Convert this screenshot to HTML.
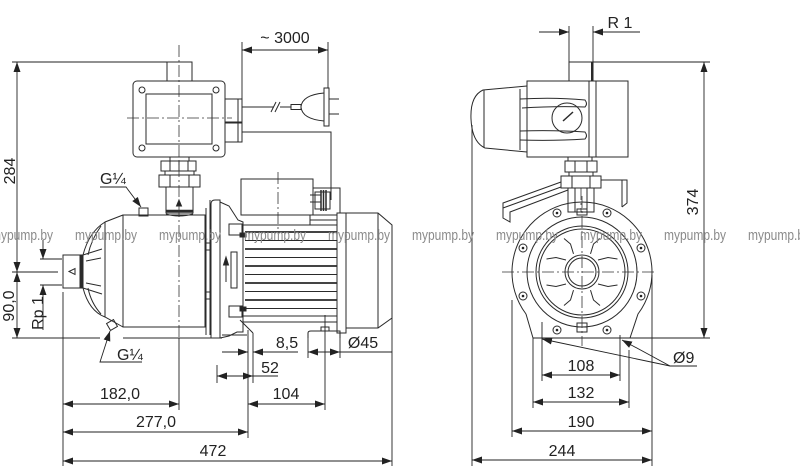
<!DOCTYPE html>
<html><head><meta charset="utf-8"><style>
html,body{margin:0;padding:0;background:#fff;}
svg{display:block;}
text{font-family:"Liberation Sans",sans-serif;fill:#222;font-size:16px;}
.wm{fill:#8a8a8a;font-size:15px;}
</style></head><body>
<svg width="800" height="468" viewBox="0 0 800 468" xmlns="http://www.w3.org/2000/svg">
<defs>
<marker id="a" viewBox="0 0 10 7" refX="10" refY="3.5" markerWidth="10" markerHeight="7" markerUnits="userSpaceOnUse" orient="auto-start-reverse"><path d="M0,0L10,3.5L0,7z" fill="#222"/></marker>
<g id="vq">
<path d="M573.5,253.9L570.5,244L564,238.5"/>
<path d="M566,260L556,257.5L546.5,259"/>
</g>
</defs>
<rect width="800" height="468" fill="#fff"/>

<!-- ============ LEFT VIEW ============ -->
<g fill="none" stroke="#2a2a2a" stroke-width="1">
<rect x="133" y="81" width="92" height="76" rx="4"/>
<rect x="146" y="94" width="66" height="50"/>
<circle cx="142" cy="90" r="3"/><circle cx="216" cy="90" r="3"/>
<circle cx="142" cy="148" r="3"/><circle cx="216" cy="148" r="3"/>
<rect x="167" y="62" width="25" height="19"/>
<rect x="225" y="99" width="17" height="23"/>
<rect x="225" y="123" width="17" height="19"/>
<path d="M238,99V122M238,123V142"/>
<path d="M242,107H274M280,107H291"/>
<path d="M271,112L276,102M275,112L280,102"/>
<rect x="291" y="104.5" width="10" height="5"/>
<path d="M324,93Q302,95 301,107Q302,119 324,121"/>
<rect x="324" y="88" width="5" height="38"/>
<path d="M329,99H339M329,114H339"/>
<path d="M242,132H331V200"/>
<rect x="170" y="157" width="19" height="4"/>
<rect x="161" y="161" width="35" height="10"/>
<path d="M170,161V171M179,161V171M188,161V171"/>
<rect x="165" y="171" width="29" height="4"/>
<rect x="159" y="175" width="41" height="12"/>
<path d="M170,175V187M189,175V187"/>
<rect x="166" y="187" width="27" height="26"/>
<path d="M166,211H193" stroke-width="2.5"/>
<path d="M166,214Q179,218 193,214"/>
<path d="M179,200L176.5,206H181.5Z" fill="#222"/>
<rect x="123" y="215" width="82" height="112"/>
<path d="M123,215L105,222Q89,232 83,255V288Q89,311 105,317L123,327"/>
<path d="M105,222V317"/>
<path d="M101,226Q91,240 88,255M88,288Q91,303 101,314"/>
<path d="M83,255L102,249M86,261L101,258M86,283L101,286M83,288L102,294"/>
<rect x="63" y="255" width="19" height="33"/>
<path d="M81,255V288" stroke-width="3"/>
<path d="M69,271.5L75,268.5V274.5Z"/>
<rect x="139" y="208" width="9" height="8"/>
<rect x="108" y="321" width="8" height="8" transform="rotate(-30 112 325)"/>
<path d="M206,208V335M210,200V335"/>
<rect x="206" y="243" width="4" height="7"/><rect x="206" y="292" width="4" height="7"/>
<path d="M211,338V204Q211,200 215,200H220V338"/>
<path d="M220,202L229,206L238,220L243,222V332H237L229,336L220,338"/>
<path d="M222,335H247M240,320L253,333"/>
<rect x="229" y="224" width="13" height="11"/>
<rect x="229" y="306" width="13" height="11"/>
<rect x="231" y="252" width="6" height="36"/>
<path d="M226,282V264"/>
<path d="M226,257L223.5,265H228.5Z" fill="#222"/>
<rect x="240" y="233" width="6" height="4" fill="#222"/>
<rect x="240" y="307" width="6" height="4" fill="#222"/>
<rect x="241" y="179" width="72" height="36"/>
<path d="M243,225H337M243,322H337M243,316H337M243,222V322"/>
<g stroke-width="1.8">
<path d="M245,232H337M245,249H337M245,266H337M245,283H337M245,300H337"/>
</g>
<g stroke-width="1.1">
<path d="M245,240.5H337M245,257.5H337M245,274.5H337M245,291.5H337M245,308.5H337"/>
</g>
<rect x="310" y="215" width="27" height="10"/>
<path d="M310,220H337"/>
<rect x="315" y="192" width="15" height="17"/>
<path d="M321,190V211M323.5,190V211M326,190V211" stroke-width="1.5"/>
<path d="M310,195H321M310,202H321M313,188H340V213"/>
<rect x="337" y="213" width="9" height="120"/>
<path d="M346,213H378L392,225V318L378,328H346M378,213V328"/>
<path d="M308,338V333Q308,331 311,331H340V338"/>
<rect x="321" y="327" width="8" height="4"/>
<path d="M12,338H100M123,338H222"/>
</g>

<g fill="none" stroke="#333" stroke-width="0.8" stroke-dasharray="12,3,2,3">
<path d="M179,45V338M127,118H232M278,172V232"/>
</g>

<g fill="none" stroke="#222" stroke-width="0.9">
<path d="M12,62H167M12,272H58M40,259H62M40,285H62"/>
<path d="M17,62V272" marker-start="url(#a)" marker-end="url(#a)"/>
<path d="M17,272V338" marker-start="url(#a)" marker-end="url(#a)"/>
<path d="M43,240V259" marker-end="url(#a)"/>
<path d="M43,330V285" marker-end="url(#a)"/>
<path d="M242,42V99M328,42V88"/>
<path d="M242,50H328" marker-start="url(#a)" marker-end="url(#a)"/>
<path d="M100,187H126L141,207" marker-end="url(#a)"/>
<path d="M142,362H100L110,331" marker-end="url(#a)"/>
<path d="M222,352H248" marker-end="url(#a)"/>
<path d="M298,352H253" marker-end="url(#a)"/>
<path d="M308,352H340" marker-start="url(#a)" marker-end="url(#a)"/>
<path d="M340,352H392"/>
<path d="M217,376H253" marker-start="url(#a)" marker-end="url(#a)"/>
<path d="M253,376H278"/>
<path d="M63,404H179" marker-start="url(#a)" marker-end="url(#a)"/>
<path d="M248,404H325" marker-start="url(#a)" marker-end="url(#a)"/>
<path d="M63,432H248" marker-start="url(#a)" marker-end="url(#a)"/>
<path d="M63,461H392" marker-start="url(#a)" marker-end="url(#a)"/>
<path d="M63,292V466M179,338V410M248,330V438M253,333V383M217,365V383M325,315V410M392,318V466M308,333V358M340,333V358"/>
</g>

<!-- ============ RIGHT VIEW ============ -->
<g fill="none" stroke="#2a2a2a" stroke-width="1">
<rect x="569" y="62" width="24" height="19"/>
<path d="M592,62V81" stroke-width="2"/>
<rect x="527" y="81" width="101" height="76"/>
<path d="M589,81V157M596,81V157"/>
<path d="M527,86L483,90Q470,96 471,119Q472,142 485,148L527,152"/>
<path d="M520,89V150M484,90V148"/>
<circle cx="567" cy="118" r="15"/>
<path d="M563,121L573,112" stroke-width="1.5"/>
<path d="M520,99Q555,97 585,100Q588,104 585,107Q555,106 522,108"/>
<path d="M520,131Q555,130 585,132Q588,136 585,139Q555,141 520,140"/>
<rect x="568" y="157" width="24" height="4"/>
<rect x="565" y="161" width="32" height="11"/>
<path d="M575,161V172M587,161V172"/>
<rect x="569" y="172" width="24" height="4"/>
<rect x="561" y="176" width="40" height="12"/>
<path d="M572,176V188M590,176V188"/>
<rect x="568" y="188" width="26" height="24"/>
<path d="M575,188V212M587,188V212"/>
<path d="M561,182L503,203V218L510,222V212L568,190M503,208L561,187"/>
<path d="M601,180H627V203L622,207M622,180V207"/>
<path d="M526,314A70,70 0 1 1 638,314L630,338M526,314L533,338"/>
<circle cx="582" cy="272" r="55"/>
<circle cx="582" cy="272" r="46"/>
<circle cx="582" cy="272" r="43"/>
<circle cx="582" cy="272" r="17"/>
<circle cx="582" cy="272" r="14"/>
<g>
<circle cx="557" cy="213" r="4"/><circle cx="607" cy="213" r="4"/>
<circle cx="523" cy="248" r="4"/><circle cx="641" cy="248" r="4"/>
<circle cx="523" cy="296" r="4"/><circle cx="641" cy="296" r="4"/>
<circle cx="557" cy="330" r="4"/><circle cx="607" cy="330" r="4"/>
</g>
<g fill="#222" stroke="none">
<circle cx="557" cy="213" r="1.3"/><circle cx="607" cy="213" r="1.3"/>
<circle cx="523" cy="248" r="1.3"/><circle cx="641" cy="248" r="1.3"/>
<circle cx="523" cy="296" r="1.3"/><circle cx="641" cy="296" r="1.3"/>
<circle cx="557" cy="330" r="1.3"/><circle cx="607" cy="330" r="1.3"/>
</g>
<use href="#vq"/>
<use href="#vq" transform="translate(1164,0) scale(-1,1)"/>
<use href="#vq" transform="translate(0,544) scale(1,-1)"/>
<use href="#vq" transform="translate(1164,544) scale(-1,-1)"/>
<rect x="577" y="209" width="10" height="6"/>
<rect x="577" y="323" width="10" height="9"/>
<path d="M577,327H587"/>
</g>
<g fill="none" stroke="#333" stroke-width="0.8" stroke-dasharray="12,3,2,3">
<path d="M502,272H656M582,196V346M581,188V212"/>
</g>

<g fill="none" stroke="#222" stroke-width="0.9">
<path d="M569,26V62M593,26V62"/>
<path d="M539,32H569" marker-end="url(#a)"/>
<path d="M640,32H593" marker-end="url(#a)"/>
<path d="M593,62H710M533,338H710"/>
<path d="M704,62V338" marker-start="url(#a)" marker-end="url(#a)"/>
<path d="M542,322V381M620,335V381M533,338V408M629,350V408M512,300V437M472,125V466M652,275V466"/>
<path d="M542,375H620" marker-start="url(#a)" marker-end="url(#a)"/>
<path d="M533,402H629" marker-start="url(#a)" marker-end="url(#a)"/>
<path d="M512,431H652" marker-start="url(#a)" marker-end="url(#a)"/>
<path d="M472,460H652" marker-start="url(#a)" marker-end="url(#a)"/>
<path d="M697,366H670L542,339" marker-end="url(#a)"/>
<path d="M670,366L622,340" marker-end="url(#a)"/>
</g>

<text x="285" y="43" text-anchor="middle">~ 3000</text>
<text x="100" y="184">G¼</text>
<text x="117" y="360">G¼</text>
<text x="287" y="348" text-anchor="middle">8,5</text>
<text x="363" y="348" text-anchor="middle">Ø45</text>
<text x="270" y="373" text-anchor="middle">52</text>
<text x="120" y="399" text-anchor="middle">182,0</text>
<text x="286" y="399" text-anchor="middle">104</text>
<text x="156" y="427" text-anchor="middle">277,0</text>
<text x="213" y="456" text-anchor="middle">472</text>
<text transform="translate(15,171) rotate(-90)" text-anchor="middle">284</text>
<text transform="translate(14,306) rotate(-90)" text-anchor="middle">90,0</text>
<text transform="translate(43,313) rotate(-90)" text-anchor="middle">Rp 1</text>
<text x="620" y="28" text-anchor="middle">R 1</text>
<text transform="translate(698,202) rotate(-90)" text-anchor="middle">374</text>
<text x="581" y="371" text-anchor="middle">108</text>
<text x="581" y="398" text-anchor="middle">132</text>
<text x="581" y="427" text-anchor="middle">190</text>
<text x="562" y="456" text-anchor="middle">244</text>
<text x="673" y="363">Ø9</text>

<g class="wm">
<text class="wm" x="-9" y="240" textLength="62" lengthAdjust="spacingAndGlyphs">mypump.by</text>
<text class="wm" x="75" y="240" textLength="62" lengthAdjust="spacingAndGlyphs">mypump.by</text>
<text class="wm" x="159" y="240" textLength="62" lengthAdjust="spacingAndGlyphs">mypump.by</text>
<text class="wm" x="244" y="240" textLength="62" lengthAdjust="spacingAndGlyphs">mypump.by</text>
<text class="wm" x="328" y="240" textLength="62" lengthAdjust="spacingAndGlyphs">mypump.by</text>
<text class="wm" x="412" y="240" textLength="62" lengthAdjust="spacingAndGlyphs">mypump.by</text>
<text class="wm" x="496" y="240" textLength="62" lengthAdjust="spacingAndGlyphs">mypump.by</text>
<text class="wm" x="580" y="240" textLength="62" lengthAdjust="spacingAndGlyphs">mypump.by</text>
<text class="wm" x="664" y="240" textLength="62" lengthAdjust="spacingAndGlyphs">mypump.by</text>
<text class="wm" x="748" y="240" textLength="62" lengthAdjust="spacingAndGlyphs">mypump.by</text>
</g>
</svg>
</body></html>
